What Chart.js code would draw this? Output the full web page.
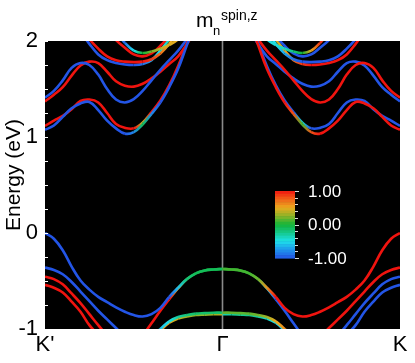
<!DOCTYPE html>
<html>
<head>
<meta charset="utf-8">
<script src="https://cdn.jsdelivr.net/npm/chart.js@4.4.0/dist/chart.umd.min.js"></script>
<style>
  html, body { margin: 0; padding: 0; background: #fff; }
  #wrap { width: 415px; height: 363px; }
</style>
</head>
<body>
<div id="wrap"><canvas id="bands" width="415" height="363"></canvas></div>
<script>
// path labels and axis ticks
var kLabels = ["K'", "\u0393", "K"];
var energyTicks = [-1, 0, 1, 2];
var spinTicks = [1, 0, -1];

// fraction of the path from Gamma to K (the K' half is its mirror, spin reversed)
var kHalf = [0, 0.05, 0.1, 0.15, 0.2, 0.25, 0.3, 0.35, 0.4, 0.45, 0.5,
             0.55, 0.6, 0.65, 0.7, 0.75, 0.8, 0.85, 0.9, 0.95, 1];

// valence bands (eV), null = outside the energy window
var bandV1 = [-0.375, -0.38, -0.39, -0.42, -0.48, -0.57, -0.665, -0.78, -0.845, -0.87, -0.855,
              -0.82, -0.775, -0.72, -0.665, -0.59, -0.495, -0.35, -0.18, -0.06, 0.0];
var spinV1 = [0.1, 0.1, 0.1, 0.1, 0.2, 0.6, 1, 1, 1, 1, 1, 1, 1, 1, 1, 1, 1, 1, 1, 1, 1];
var bandV2 = [-0.375, -0.38, -0.39, -0.42, -0.48, -0.575, -0.69, -0.81, -0.94, -1.07, null,
              null, null, null, null, null, null, null, null, null, null];
var spinV2 = [0, 0, 0, 0, -0.1, -0.5, -1, -1, -1, -1, -1, -1, -1, -1, -1, -1, -1, -1, -1, -1, -1];
var bandV3 = [-0.83, -0.83, -0.835, -0.84, -0.855, -0.875, -0.92, -1.0, -1.08, null, null,
              null, null, null, null, null, null, null, null, null, null];
var spinV3 = [0.15, 0.15, 0.15, 0.15, 0.2, 0.3, 0.5, 0.6, 0.6, 0.6, 0.6, 0.6, 0.6, 0.6, 0.6, 0.6, 0.6, 0.6, 0.6, 0.6, 0.6];
var bandV4 = [-0.845, -0.845, -0.85, -0.855, -0.87, -0.89, -0.935, -1.015, -1.1, null, null,
              null, null, null, null, null, null, null, null, null, null];
var spinV4 = [-0.35, -0.3, -0.25, -0.25, -0.3, -0.4, -0.5, -0.6, -0.6, -0.6, -0.6, -0.6, -0.6, -0.6, -0.6, -0.6, -0.6, -0.6, -0.6, -0.6, -0.6];
var bandV5 = [null, null, null, null, null, null, null, null, null, null, null,
              -1.08, -0.99, -0.90, -0.81, -0.71, -0.61, -0.51, -0.43, -0.385, -0.36];
var spinV5 = 1;
var bandV6 = [null, null, null, null, null, null, null, null, null, null, null,
              null, null, -1.07, -0.96, -0.845, -0.73, -0.63, -0.535, -0.48, -0.455];
var spinV6 = -1;
var bandV7 = [null, null, null, null, null, null, null, null, null, null, null,
              null, null, null, -1.06, -0.96, -0.82, -0.715, -0.62, -0.57, -0.54];
var spinV7 = -1;

// conduction bands (eV)
var bandC1 = [null, null, null, 2.2, 1.96, 1.71, 1.52, 1.36, 1.24, 1.13, 1.05,
              1.035, 1.09, 1.17, 1.28, 1.365, 1.35, 1.30, 1.21, 1.12, 1.075];
var spinC1 = [1, 1, 1, 1, 1, 1, 1, 1, 0.8, 0.1, 0.8, 1, 1, 1, 1, 1, 1, 1, 1, 1, 1];
var bandC2 = [null, null, null, 2.2, 1.98, 1.74, 1.54, 1.38, 1.26, 1.15, 1.09,
              1.095, 1.135, 1.25, 1.36, 1.39, 1.375, 1.29, 1.22, 1.17, 1.115];
var spinC2 = [-1, -1, -1, -1, -1, -1, -1, -1, -1, -0.4, -1, -1, -1, -1, -1, -1, -1, -1, -1, -1, -1];
var bandC3 = [null, null, null, 2.15, 2.02, 1.90, 1.80, 1.70, 1.59, 1.48, 1.395,
              1.36, 1.39, 1.50, 1.65, 1.75, 1.77, 1.72, 1.59, 1.48, 1.41];
var spinC3 = 1;
var bandC4 = [null, null, null, 2.12, 1.97, 1.84, 1.76, 1.68, 1.61, 1.555, 1.525,
              1.535, 1.58, 1.68, 1.77, 1.785, 1.745, 1.64, 1.52, 1.44, 1.37];
var spinC4 = -1;
var bandU1 = [null, null, null, null, 2.15, 2.02, 1.96, 1.92, 1.89, 1.875, 1.90,
              1.98, 2.1, null, null, null, null, null, null, null, null];
var spinU1 = [-0.5, -0.5, -0.5, -0.5, -0.5, -0.5, -0.45, -0.4, -0.2, 0, 0.5, 0.9, 1, 1, 1, 1, 1, 1, 1, 1, 1];
var bandU2 = [null, null, null, null, null, 2.15, 2.05, 1.95, 1.87, 1.84, 1.86,
              1.93, 2.01, 2.12, null, null, null, null, null, null, null];
var spinU2 = -1;
var bandU3 = [null, null, null, null, null, 2.1, 1.97, 1.87, 1.81, 1.785, 1.78,
              1.785, 1.80, 1.84, 1.92, 2.02, 2.15, null, null, null, null];
var spinU3 = [-0.5, -0.5, -0.5, -0.5, -0.5, -0.5, -0.5, -0.7, -0.9, -1, -1, -1, -1, -1, -1, -1, -1, -1, -1, -1, -1];
var bandU4 = [null, null, null, null, null, 2.15, 2.02, 1.90, 1.80, 1.76, 1.75,
              1.755, 1.77, 1.80, 1.86, 1.97, 2.1, null, null, null, null];
var spinU4 = [0.4, 0.4, 0.4, 0.4, 0.4, 0.4, 0.4, 0.5, 0.7, 0.9, 1, 1, 1, 1, 1, 1, 1, 1, 1, 1, 1];

var bands = [
  [bandV1, spinV1], [bandV2, spinV2], [bandV3, spinV3], [bandV4, spinV4],
  [bandV5, spinV5], [bandV6, spinV6], [bandV7, spinV7],
  [bandC1, spinC1], [bandC2, spinC2], [bandC3, spinC3], [bandC4, spinC4],
  [bandU1, spinU1], [bandU2, spinU2], [bandU3, spinU3], [bandU4, spinU4]
];

// jet-like colour map for the spin expectation value
var cmapStops = [[-1, [35, 85, 230]], [-0.75, [30, 150, 235]], [-0.5, [30, 225, 235]],
                 [-0.25, [20, 200, 140]], [0, [20, 180, 55]], [0.25, [140, 180, 40]],
                 [0.5, [235, 170, 30]], [0.75, [240, 100, 25]], [1, [240, 20, 15]]];
function spinColor(s) {
  s = Math.max(-1, Math.min(1, s));
  for (var i = 1; i < cmapStops.length; i++) {
    if (s <= cmapStops[i][0]) {
      var a = cmapStops[i - 1], b = cmapStops[i], f = (s - a[0]) / (b[0] - a[0]);
      var c = [0, 1, 2].map(function(j) { return Math.round(a[1][j] + f * (b[1][j] - a[1][j])); });
      return 'rgb(' + c.join(',') + ')';
    }
  }
  return 'rgb(240,20,15)';
}

var canvas = document.getElementById('bands');
var ctx = canvas.getContext('2d');

function segColor(spins) {
  return function(sc) {
    var s0 = spins[sc.p0DataIndex], s1 = spins[sc.p1DataIndex];
    if (s0 === s1) return spinColor(s0);
    var g = ctx.createLinearGradient(sc.p0.x, sc.p0.y, sc.p1.x, sc.p1.y);
    g.addColorStop(0, spinColor(s0));
    g.addColorStop(1, spinColor(s1));
    return g;
  };
}

// each band gives one dataset on Gamma->K and its mirror on K'->Gamma
var datasets = [];
bands.forEach(function(b) {
  var energy = b[0];
  var spin = kHalf.map(function(t, i) { return Array.isArray(b[1]) ? b[1][i] : b[1]; });
  [1, -1].forEach(function(side) {
    var sp = spin.map(function(s) { return s * side; });
    datasets.push({
      data: kHalf.map(function(t, i) { return { x: 1 + side * t, y: energy[i] }; }),
      borderColor: spinColor(sp[0]),
      borderWidth: 2.6,
      pointRadius: 0,
      tension: 0.4,
      clip: 0,
      segment: { borderColor: segColor(sp) }
    });
  });
});

var frame = {
  id: 'frame',
  beforeDraw: function(chart) {
    var c = chart.ctx, a = chart.chartArea;
    c.save();
    c.fillStyle = '#fff';
    c.fillRect(0, 0, chart.width, chart.height);
    c.fillStyle = '#000';
    c.fillRect(a.left, a.top, a.right - a.left, a.bottom - a.top);
    c.restore();
  },
  beforeDatasetsDraw: function(chart) {
    var c = chart.ctx, a = chart.chartArea;
    var gx = chart.scales.x.getPixelForValue(1);
    c.save();
    c.strokeStyle = '#8a8a8a';
    c.lineWidth = 1.6;
    c.beginPath();
    c.moveTo(gx, a.top);
    c.lineTo(gx, a.bottom);
    c.stroke();
    c.restore();
  },
  afterDatasetsDraw: function(chart) {
    var c = chart.ctx, a = chart.chartArea, y = chart.scales.y;
    c.save();
    // inward minor ticks on the energy axis
    c.strokeStyle = '#fff';
    c.lineWidth = 1;
    for (var e = -1; e <= 2.001; e += 0.25) {
      var py = Math.round(y.getPixelForValue(e)) + 0.5;
      c.beginPath();
      c.moveTo(a.left, py);
      c.lineTo(a.left + 3, py);
      c.stroke();
    }
    // colour bar
    var bx = 275, bw = 20, by = 191, bh = 67, steps = 24;
    for (var i = 0; i < steps; i++) {
      var s = 1 - 2 * (i + 0.5) / steps;
      c.fillStyle = spinColor(s);
      c.fillRect(bx, by + i * bh / steps, bw, bh / steps + 0.6);
    }
    c.strokeStyle = '#ddd';
    for (var k = 0; k <= 10; k++) {
      var ty = Math.round(by + k * bh / 10) + 0.5;
      c.beginPath();
      c.moveTo(bx + bw, ty);
      c.lineTo(bx + bw + (k % 5 === 0 ? 4 : 3), ty);
      c.stroke();
    }
    c.fillStyle = '#fff';
    c.font = '17px "Liberation Sans", Arial, sans-serif';
    c.textAlign = 'left';
    c.textBaseline = 'middle';
    spinTicks.forEach(function(v, j) {
      c.fillText(v.toFixed(2), 308, by + j * bh / 2 + 1);
    });
    c.restore();
  },
  afterDraw: function(chart) {
    var c = chart.ctx;
    c.save();
    c.fillStyle = '#000';
    c.textBaseline = 'alphabetic';
    c.textAlign = 'left';
    c.font = '21px "Liberation Sans", Arial, sans-serif';
    c.fillText('m', 196, 27);
    c.font = '13px "Liberation Sans", Arial, sans-serif';
    c.fillText('n', 213, 35);
    c.font = '14px "Liberation Sans", Arial, sans-serif';
    c.fillText('spin,z', 221, 20);
    // energy axis title
    c.translate(14, 175);
    c.rotate(-Math.PI / 2);
    c.textAlign = 'center';
    c.textBaseline = 'middle';
    c.font = '21px "Liberation Sans", Arial, sans-serif';
    c.fillText('Energy (eV)', 0, 0);
    c.restore();
  }
};

new Chart(ctx, {
  type: 'line',
  data: { datasets: datasets },
  options: {
    responsive: false,
    animation: false,
    events: [],
    layout: { padding: { top: 41, right: 15, left: 0, bottom: 0 } },
    plugins: { legend: { display: false }, tooltip: { enabled: false } },
    scales: {
      x: {
        type: 'linear', min: 0, max: 2,
        grid: { display: false, drawTicks: false },
        border: { display: false },
        afterFit: function(s) { s.height = 34; },
        ticks: {
          stepSize: 1, padding: 3, color: '#000', maxRotation: 0,
          font: { family: '"Liberation Sans", Arial, sans-serif', size: 22 },
          callback: function(v) { return kLabels[v]; }
        }
      },
      y: {
        type: 'linear', min: energyTicks[0], max: energyTicks[energyTicks.length - 1],
        grid: { display: false, drawTicks: false },
        border: { display: false },
        afterFit: function(s) { s.width = 45; },
        ticks: {
          stepSize: 1, padding: 7, color: '#000',
          font: { family: '"Liberation Sans", Arial, sans-serif', size: 22 },
          callback: function(v) { return energyTicks.indexOf(v) >= 0 ? String(v) : ''; }
        }
      }
    }
  },
  plugins: [frame]
});
</script>
</body>
</html>
